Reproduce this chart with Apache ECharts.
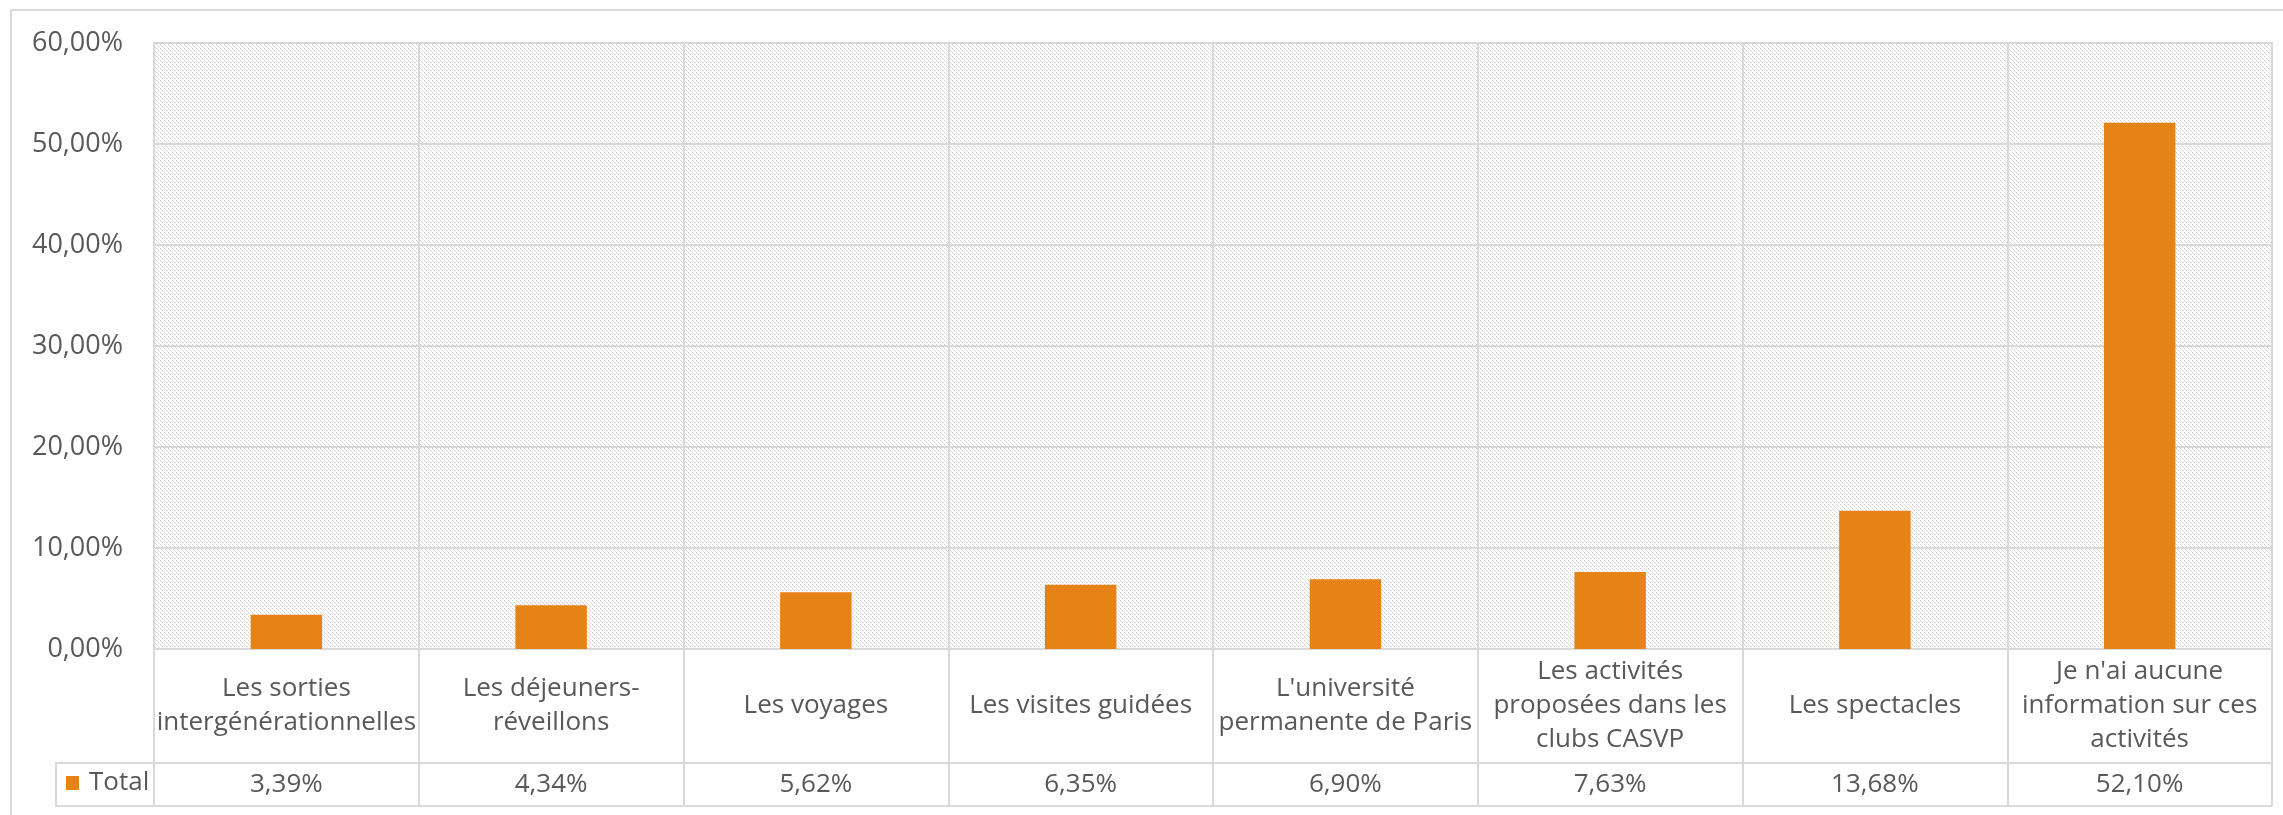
<!DOCTYPE html>
<html>
<head>
<meta charset="utf-8">
<script src="https://cdn.jsdelivr.net/npm/echarts@6/dist/echarts.min.js"></script>
<style>
  html, body { margin: 0; padding: 0; background: #fff; }
  #chart { width: 2283px; height: 815px; }
</style>
</head>
<body>
<div id="chart"></div>
<script>
// données
const categories = [
    "Les sorties\nintergénérationnelles",
    "Les déjeuners-\nréveillons",
    "Les voyages",
    "Les visites guidées",
    "L'université\npermanente de Paris",
    "Les activités\nproposées dans les\nclubs CASVP",
    "Les spectacles",
    "Je n'ai aucune\ninformation sur ces\nactivités"
]
const totals = [3.39, 4.34, 5.62, 6.35, 6.90, 7.63, 13.68, 52.10]
const yTicks = { min: 0, max: 60, interval: 10 }
const seriesName = "Total"

const grey = '#595959'
const lineGrey = '#d9d9d9'
const orange = '#E68316'
const font = '"Open Sans", "Noto Sans", sans-serif'

function pct(v){
    return v.toFixed(2).replace('.', ',') + '%'
}

// motif hachuré (diagonale descendante claire)
function makeHatch(){
    let c = document.createElement('canvas')
    c.width = 8
    c.height = 8
    let ctx = c.getContext('2d')
    ctx.fillStyle = '#ffffff'
    ctx.fillRect(0, 0, 8, 8)
    for (let y = 0; y < 8; y++)
        for (let x = 0; x < 8; x++)
            if ((x - y + 8) % 4 === 0) {
                ctx.fillStyle = (x % 2 === 0) ? '#d0d0d0' : '#e4e4e4'
                ctx.fillRect(x, y, 1, 1)
            }
    return c
}

let option = {
    animation: false,
    textStyle: { fontFamily: font },
    grid: {
        left: 154,
        right: 11,
        top: 43,
        bottom: 166,
        show: true,
        borderColor: lineGrey,
        borderWidth: 2,
        backgroundColor: { image: makeHatch(), repeat: 'repeat' }
    },
    legend: {
        left: 66,
        top: 770,
        itemWidth: 13,
        itemHeight: 14,
        icon: 'rect',
        padding: 0,
        data: [seriesName],
        textStyle: { color: grey, fontSize: 26, fontFamily: font, padding: [0, 0, 0, 5] }
    },
    xAxis: [
        {
            type: 'category',
            data: categories,
            axisLine: { lineStyle: { color: lineGrey, width: 2 } },
            axisTick: { show: true, length: 157, lineStyle: { color: lineGrey, width: 2 } },
            splitLine: { show: true, lineStyle: { color: lineGrey, width: 2 } },
            axisLabel: {
                interval: 0,
                color: grey,
                fontSize: 26,
                lineHeight: 34,
                verticalAlign: 'middle',
                margin: 57,
                fontFamily: font
            }
        },
        {
            type: 'category',
            position: 'bottom',
            offset: 114,
            data: totals.map(pct),
            axisLine: { show: true, lineStyle: { color: lineGrey, width: 2 } },
            axisTick: { show: false },
            axisLabel: {
                interval: 0,
                color: grey,
                fontSize: 26,
                verticalAlign: 'middle',
                margin: 22,
                fontFamily: font
            }
        }
    ],
    yAxis: {
        type: 'value',
        min: yTicks.min,
        max: yTicks.max,
        interval: yTicks.interval,
        axisLine: { show: false },
        axisTick: { show: false },
        splitLine: { lineStyle: { color: lineGrey, width: 2 } },
        axisLabel: {
            color: grey,
            fontSize: 27,
            margin: 31,
            formatter: v => pct(v),
            fontFamily: font
        }
    },
    series: [
        {
            name: seriesName,
            type: 'bar',
            xAxisIndex: 0,
            data: totals,
            barWidth: '27%',
            itemStyle: { color: orange }
        }
    ],
    graphic: [
        // cadre du graphique
        { type: 'rect', shape: { x: 11, y: 10, width: 2290, height: 830 },
          style: { fill: null, stroke: lineGrey, lineWidth: 2 }, z: -10 },
        // cellule de la légende dans la table
        { type: 'polyline', shape: { points: [[154, 763], [56, 763], [56, 806], [2272, 806]] },
          style: { fill: null, stroke: lineGrey, lineWidth: 2 } }
    ]
}

let chartDom = echarts.init(document.querySelector("#chart"))
chartDom.setOption(option)
</script>
</body>
</html>
